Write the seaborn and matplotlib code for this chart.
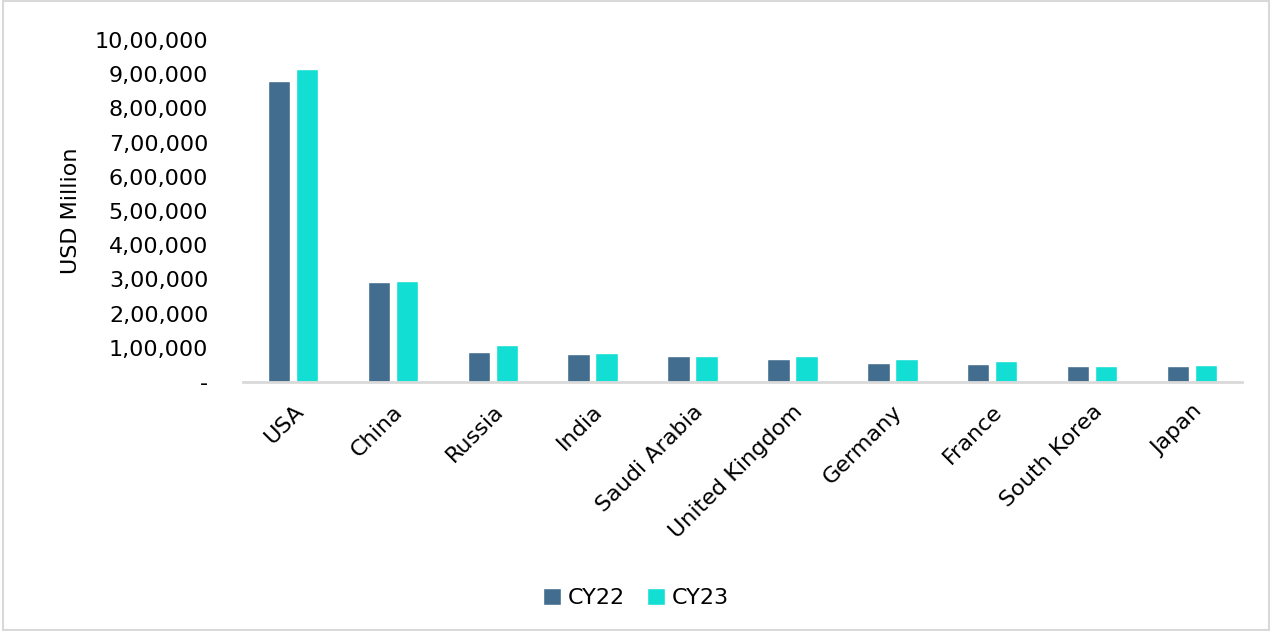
import matplotlib
matplotlib.use("Agg")
import matplotlib.pyplot as plt
import seaborn as sns
import pandas as pd
from matplotlib.ticker import FuncFormatter

countries = ["USA", "China", "Russia", "India", "Saudi Arabia", "United Kingdom",
             "Germany", "France", "South Korea", "Japan"]
cy22 = [880000, 292000, 86400, 81400, 75000, 68500, 55800, 53600, 46400, 46000]
cy23 = [916000, 296000, 109000, 83600, 75800, 74900, 66800, 61300, 47900, 50200]
series = ["CY22", "CY23"]
colors = ["#426d8f", "#12ded4"]

df = pd.DataFrame({
    "Country": countries * 2,
    "Series": ["CY22"] * len(countries) + ["CY23"] * len(countries),
    "Value": cy22 + cy23,
})

sns.set_theme(style="white")
plt.rcParams['font.family'] = ['DejaVu Sans']
plt.rcParams['text.color'] = 'black'
plt.rcParams['axes.labelcolor'] = 'black'
plt.rcParams['xtick.color'] = 'black'
plt.rcParams['ytick.color'] = 'black'

fig = plt.figure(figsize=(12.72, 6.31), dpi=100)
ax = fig.add_axes([243/1272, 1 - 382/631, (1242-243)/1272, (382-40)/631])

sns.barplot(data=df, x="Country", y="Value", hue="Series", hue_order=series,
            palette=colors, width=0.56, gap=0.2, ax=ax, saturation=1, legend=True)

ax.set_ylim(0, 1000000)
ax.set_yticks(range(0, 1000001, 100000))

def indian(v, pos):
    v = int(round(v))
    if v == 0:
        return "-"
    s = str(v)
    last3 = s[-3:]
    rest = s[:-3]
    parts = []
    while len(rest) > 2:
        parts.insert(0, rest[-2:])
        rest = rest[:-2]
    if rest:
        parts.insert(0, rest)
    return ",".join(parts + [last3])

ax.yaxis.set_major_formatter(FuncFormatter(indian))
ax.tick_params(axis='y', labelsize=16, length=0, pad=25)
ax.tick_params(axis='x', labelsize=16, length=0, pad=14)
plt.setp(ax.get_xticklabels(), rotation=45, ha='right', rotation_mode='anchor')
ax.set_xlabel("")
ax.set_ylabel("USD Million", fontsize=16, labelpad=10)

for s in ["top", "right", "left"]:
    ax.spines[s].set_visible(False)
ax.spines["bottom"].set_color("#d9d9d9")
ax.spines["bottom"].set_linewidth(2)
ax.set_xlim(-0.5, len(countries) - 0.5)

ax.legend(loc="center", bbox_to_anchor=(0.5, 1 - 598/631), bbox_transform=fig.transFigure,
          ncol=2, frameon=False, fontsize=16, handlelength=0.8, handleheight=0.8,
          handletextpad=0.3, columnspacing=1.0)

fig.patches.append(plt.Rectangle((0.002, 0.002), 0.996, 0.996, transform=fig.transFigure,
                                 fill=False, edgecolor="#d9d9d9", linewidth=1.5))

fig.savefig("out.png", dpi=100)
